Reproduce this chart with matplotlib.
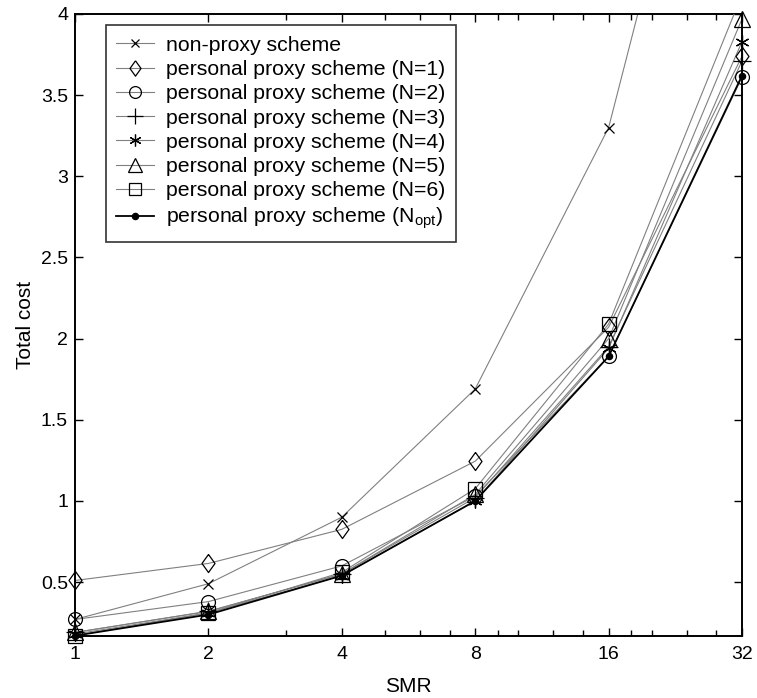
import numpy as np
import matplotlib
matplotlib.use("Agg")
import matplotlib.pyplot as plt
from matplotlib.ticker import FixedLocator, NullFormatter

plt.rcParams['font.family'] = ['Liberation Sans', 'DejaVu Sans']
plt.rcParams['mathtext.fontset'] = 'custom'
plt.rcParams['mathtext.rm'] = 'Liberation Sans'
plt.rcParams['mathtext.it'] = 'Liberation Sans:italic'

smr = [1, 2, 4, 8, 16, 32]
xtick_labels = ['1', '2', '4', '8', '16', '32']
x_minor = [3, 5, 6, 7, 9, 10, 12, 14, 18, 20, 24, 28]

non_proxy = [0.27, 0.49, 0.90, 1.69, 3.30, 6.50]
n1 = [0.51, 0.615, 0.825, 1.245, 2.07, 3.74]
n2 = [0.27, 0.38, 0.60, 1.03, 1.89, 3.61]
n3 = [0.19, 0.32, 0.55, 1.02, 1.95, 3.71]
n4 = [0.18, 0.31, 0.54, 1.00, 1.94, 3.83]
n5 = [0.19, 0.32, 0.55, 1.04, 2.00, 3.97]
n6 = [0.17, 0.31, 0.56, 1.075, 2.09, 4.12]
nopt = [0.17, 0.30, 0.54, 1.00, 1.89, 3.62]

labels = ['non-proxy scheme',
          'personal proxy scheme (N=1)',
          'personal proxy scheme (N=2)',
          'personal proxy scheme (N=3)',
          'personal proxy scheme (N=4)',
          'personal proxy scheme (N=5)',
          'personal proxy scheme (N=6)',
          r'personal proxy scheme (N$_{\rm opt}$)']

YMIN, YMAX = 0.168, 4.0

diamond = [(0, 1), (0.72, 0), (0, -1), (-0.72, 0), (0, 1)]
styles = [
    dict(marker='x', ms=6.5, color='#808080'),
    dict(marker=diamond, ms=13, color='#808080'),
    dict(marker='o', ms=10, color='#808080'),
    dict(marker='+', ms=13, color='#808080'),
    dict(marker=(6, 2, 0), ms=10, color='#808080'),
    dict(marker='^', ms=12, color='#808080'),
    dict(marker='s', ms=10.5, color='#808080'),
    dict(marker='o', ms=4.5, color='black'),
]
series = [non_proxy, n1, n2, n3, n4, n5, n6, nopt]

fig = plt.figure(figsize=(7.57, 6.98), dpi=100)
ax = fig.add_axes([75/757, 1-636/698, (742-75)/757, (636-14)/698])
ax.set_xscale('log')

handles = []
for i, (ys, st, lab) in enumerate(zip(series, styles, labels)):
    ys = np.array(ys, dtype=float)
    lw = 1.3 if i == 7 else 0.8
    filled = (i == 7)
    ax.plot(smr, ys, '-', color=st['color'], lw=lw, zorder=2 + i * 0.1)
    ym = np.where((ys <= YMAX + 1e-9) & (ys >= YMIN - 0.05), ys, np.nan)
    ax.plot(smr, ym, linestyle='none', marker=st['marker'], ms=st['ms'],
            mfc='black' if filled else 'none', mec='black', mew=0.9,
            clip_on=False, zorder=3 + i * 0.1)
    h, = ax.plot([], [], '-', color=st['color'], lw=lw, marker=st['marker'],
                 ms=st['ms'] * (0.85 if i != 7 else 1.0),
                 mfc='black' if filled else 'none', mec='black', mew=0.9)
    handles.append(h)

ax.set_xlim(1, 32)
ax.set_ylim(YMIN, YMAX)
ax.xaxis.set_major_locator(FixedLocator(smr))
ax.set_xticklabels(xtick_labels)
ax.xaxis.set_minor_locator(FixedLocator(x_minor))
ax.xaxis.set_minor_formatter(NullFormatter())
ax.set_yticks([0.5, 1, 1.5, 2, 2.5, 3, 3.5, 4])
ax.set_yticklabels(['0.5', '1', '1.5', '2', '2.5', '3', '3.5', '4'])

ax.tick_params(axis='both', which='both', direction='in', top=True, right=True,
               labelsize=14, width=1, color='black')
ax.tick_params(axis='x', which='major', length=6, pad=7)
ax.tick_params(axis='y', which='major', length=6, pad=5)
ax.tick_params(axis='both', which='minor', length=4)
for s in ax.spines.values():
    s.set_linewidth(1.4)
    s.set_color('black')

ax.set_xlabel('SMR', fontsize=15, labelpad=10)
ax.set_ylabel('Total cost', fontsize=15, labelpad=4)

leg = ax.legend(handles, labels, loc='upper left',
                bbox_to_anchor=((105.7 - 75) / 667, (636 - 25) / 622),
                borderaxespad=0, fontsize=15.3, frameon=True, fancybox=False,
                edgecolor='black', handlelength=1.75, handletextpad=0.6,
                labelspacing=0.25, borderpad=0.5)
leg.get_frame().set_linewidth(1.2)
leg.set_zorder(10)

fig.savefig('out.png', dpi=100)
